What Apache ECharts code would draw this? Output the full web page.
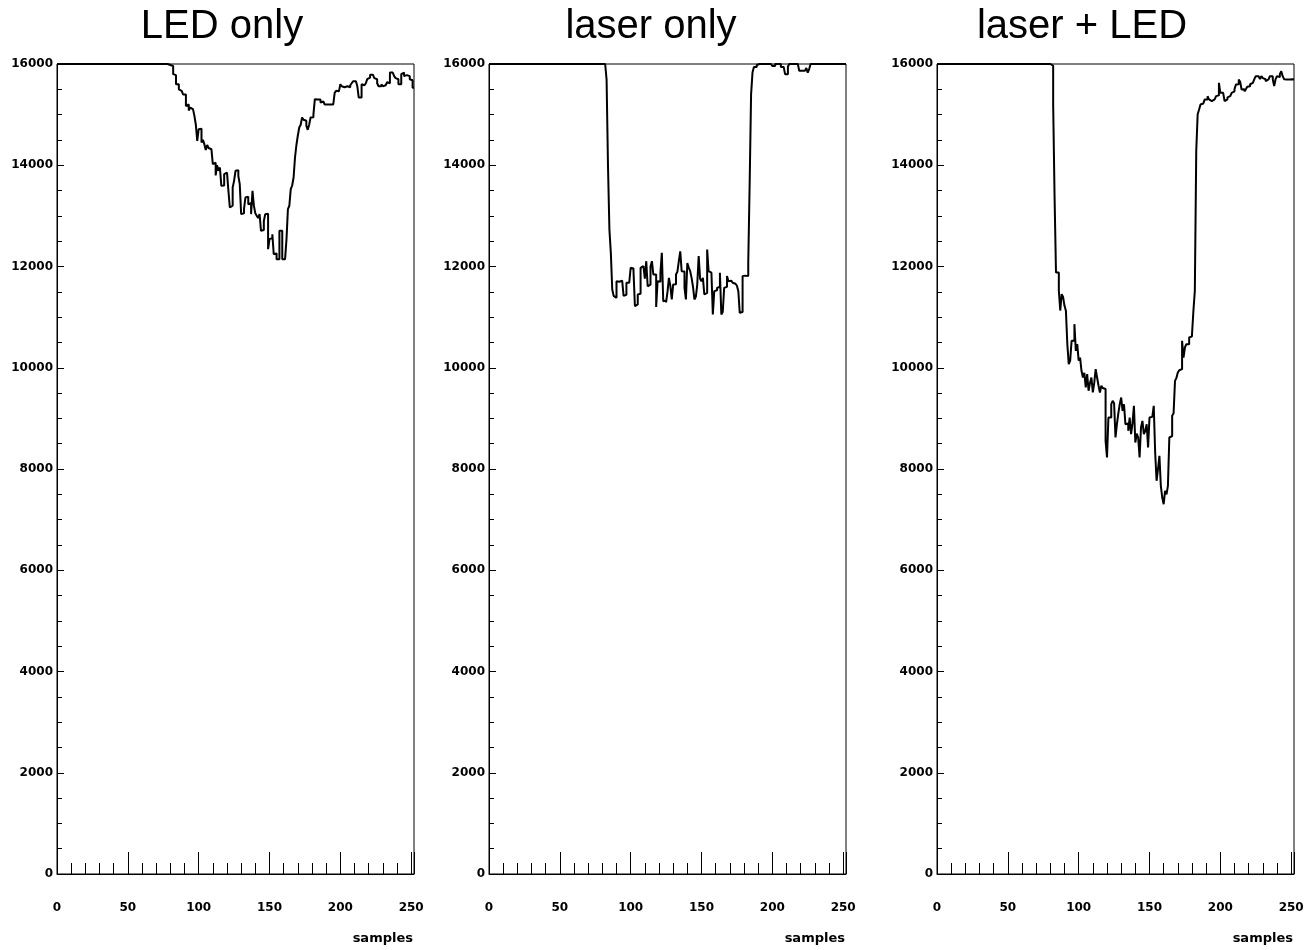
<!DOCTYPE html>
<html>
<head>
<meta charset="utf-8">
<title>LED only / laser only / laser + LED</title>
<script src="https://cdn.jsdelivr.net/npm/echarts@6.0.0/dist/echarts.min.js"></script>
<style>
  html, body { margin: 0; padding: 0; background: #fff; }
  #chart { width: 1306px; height: 950px; }
</style>
</head>
<body>
<div id="chart"></div>
<script>
// one value per sample (bin width 1)
const panelTitles = ['LED only', 'laser only', 'laser + LED'];
const xAxisName = 'samples';
const sampleCount = 252;
const xTickStep = 50;
const yTickStep = 2000;
const yMax = 16000;

const ledOnly = [
  16000, 16000, 16000, 16000, 16000, 16000, 16000, 16000, 16000, 16000,
  16000, 16000, 16000, 16000, 16000, 16000, 16000, 16000, 16000, 16000,
  16000, 16000, 16000, 16000, 16000, 16000, 16000, 16000, 16000, 16000,
  16000, 16000, 16000, 16000, 16000, 16000, 16000, 16000, 16000, 16000,
  16000, 16000, 16000, 16000, 16000, 16000, 16000, 16000, 16000, 16000,
  16000, 16000, 16000, 16000, 16000, 16000, 16000, 16000, 16000, 16000,
  16000, 16000, 16000, 16000, 16000, 16000, 16000, 16000, 16000, 16000,
  16000, 16000, 16000, 16000, 16000, 16000, 16000, 16000, 16000, 15980,
  15960, 15960, 15800, 15780, 15600, 15600, 15500, 15470, 15470, 15400,
  15400, 15170, 15200, 15080, 15140, 15108, 15100, 14976, 14800, 14480,
  14713, 14720, 14450, 14500, 14416, 14300, 14400, 14340, 14317, 14300,
  14020, 14050, 13800, 14000, 13890, 13956, 13594, 13600, 13824, 13856,
  13856, 13494, 13165, 13200, 13560, 13692, 13890, 13900, 13790, 13626,
  13034, 13050, 13132, 13363, 13380, 13231, 13250, 13034, 13494, 13198,
  13050, 13000, 12960, 13034, 12705, 12720, 12900, 13034, 13040, 12342,
  12540, 12560, 12638, 12243, 12260, 12145, 12145, 12705, 12705, 12145,
  12145, 12145, 12540, 13132, 13200, 13527, 13600, 13758, 14153, 14400,
  14588, 14746, 14800, 14943, 14900, 14880, 14780, 14700, 14800, 14943,
  14950, 15000, 15305, 15300, 15280, 15300, 15240, 15260, 15240, 15200,
  15200, 15200, 15200, 15220, 15200, 15200, 15430, 15470, 15460, 15470,
  15600, 15560, 15540, 15520, 15560, 15560, 15540, 15580, 15620, 15660,
  15660, 15640, 15560, 15337, 15337, 15600, 15580, 15600, 15620, 15700,
  15730, 15790, 15790, 15760, 15720, 15700, 15620, 15560, 15560, 15600,
  15560, 15580, 15600, 15640, 15620, 15830, 15830, 15800, 15760, 15720,
  15700, 15600, 15600, 15800, 15830, 15760, 15780, 15800, 15760, 15700,
  15680, 15530
];

const laserOnly = [
  16000, 16000, 16000, 16000, 16000, 16000, 16000, 16000, 16000, 16000,
  16000, 16000, 16000, 16000, 16000, 16000, 16000, 16000, 16000, 16000,
  16000, 16000, 16000, 16000, 16000, 16000, 16000, 16000, 16000, 16000,
  16000, 16000, 16000, 16000, 16000, 16000, 16000, 16000, 16000, 16000,
  16000, 16000, 16000, 16000, 16000, 16000, 16000, 16000, 16000, 16000,
  16000, 16000, 16000, 16000, 16000, 16000, 16000, 16000, 16000, 16000,
  16000, 16000, 16000, 16000, 16000, 16000, 16000, 16000, 16000, 16000,
  16000, 16000, 16000, 16000, 16000, 16000, 16000, 16000, 16000, 16000,
  16000, 16000, 16000, 15694, 13980, 12730, 12270, 11546, 11420, 11381,
  11710, 11700, 11710, 11720, 11690, 11420, 11440, 11680, 11680, 11650,
  11975, 11960, 11908, 11216, 11250, 11447, 11460, 11974, 12010, 12040,
  11760, 12105, 11610, 11640, 12000, 12105, 11842, 11840, 11200, 11710,
  11700, 11870, 12270, 11315, 11330, 11290, 11500, 11776, 11620, 11350,
  11644, 11650, 11842, 11900, 12105, 12300, 11908, 11900, 11579, 11350,
  12070, 11980, 11908, 11776, 11600, 11350, 11400, 11644, 12204, 11760,
  11710, 11776, 11447, 11480, 12336, 11908, 11880, 11875, 11052, 11513,
  11530, 11579, 11600, 11875, 11052, 11100, 11579, 11600, 11810, 11710,
  11720, 11700, 11680, 11660, 11644, 11620, 11513, 11085, 11100, 11810,
  11820, 11842, 11810, 12072, 13650, 15400, 15830, 15940, 15940, 15980,
  16000, 16000, 16000, 16000, 16000, 16000, 16000, 16000, 16000, 16000,
  15960, 15960, 16000, 16000, 16000, 16000, 15943, 15943, 15950, 15800,
  15800, 15950, 16000, 16000, 16000, 16000, 16000, 16000, 16000, 15865,
  15865, 15900, 15865, 15830, 15920, 15830, 15900, 16000, 16000, 16000,
  16000, 16000, 16000, 16000, 16000, 16000, 16000, 16000, 16000, 16000,
  16000, 16000, 16000, 16000, 16000, 16000, 16000, 16000, 16000, 16000,
  16000, 16000
];

const laserLed = [
  16000, 16000, 16000, 16000, 16000, 16000, 16000, 16000, 16000, 16000,
  16000, 16000, 16000, 16000, 16000, 16000, 16000, 16000, 16000, 16000,
  16000, 16000, 16000, 16000, 16000, 16000, 16000, 16000, 16000, 16000,
  16000, 16000, 16000, 16000, 16000, 16000, 16000, 16000, 16000, 16000,
  16000, 16000, 16000, 16000, 16000, 16000, 16000, 16000, 16000, 16000,
  16000, 16000, 16000, 16000, 16000, 16000, 16000, 16000, 16000, 16000,
  16000, 16000, 16000, 16000, 16000, 16000, 16000, 16000, 16000, 16000,
  16000, 16000, 16000, 16000, 16000, 16000, 16000, 16000, 16000, 16000,
  15965, 15965, 15206, 13363, 11881, 11881, 11520, 11130, 11453, 11400,
  11223, 11125, 10465, 10070, 10140, 10532, 10532, 10861, 10334, 10465,
  10140, 10200, 9940, 9807, 9900, 9610, 9873, 9545, 9700, 9807,
  9512, 9700, 9972, 9807, 9650, 9512, 9643, 9600, 9580, 8557,
  8227, 9017, 9017, 9280, 9346, 9300, 8622, 8885, 9100, 9280,
  9412, 9149, 9280, 8885, 8900, 8754, 9017, 8688, 8900, 9247,
  8524, 8700, 8622, 8227, 8820, 8951, 8688, 8750, 8885, 8425,
  9017, 9030, 9050, 9247, 8326, 7767, 8000, 8260, 7668, 7437,
  7305, 7569, 7500, 7668, 8622, 8650, 9050, 9100, 9741, 9800,
  9906, 9950, 9972, 10532, 10200, 10400, 10465, 10465, 10598, 10620,
  10663, 11125, 11520, 14285, 15009, 15100, 15200, 15220, 15200, 15300,
  15300, 15365, 15300, 15266, 15300, 15300, 15330, 15365, 15380, 15628,
  15430, 15430, 15400, 15266, 15300, 15340, 15365, 15400, 15430, 15460,
  15500, 15595, 15600, 15694, 15650, 15496, 15500, 15460, 15500, 15550,
  15560, 15600, 15628, 15600, 15700, 15760, 15760, 15740, 15700, 15760,
  15720, 15700, 15660, 15694, 15720, 15760, 15760, 15700, 15563, 15700,
  15760, 15740, 15800, 15858, 15760, 15700, 15694, 15700, 15694, 15680,
  15700, 15694
];

const panels = [ledOnly, laserOnly, laserLed];

// layout of the three frames
const gridLefts = [57, 489, 937];
const gridTop = 64;
const gridWidth = 357;
const gridHeight = 810;
const titleCenters = [222, 651, 1082];

const labelFont = {
    color: '#000',
    fontFamily: 'DejaVu Sans',
    fontWeight: 'bold',
    fontSize: 12,
    formatter: (v) => String(v)
};

// histogram: bin i covers [i, i+1], so close the last bin with one extra point
function histData(values) {
    const pts = values.map((v, i) => [i, v]);
    pts.push([values.length, values[values.length - 1]]);
    return pts;
}

const chart = echarts.init(document.getElementById('chart'));

chart.setOption({
    animation: false,
    backgroundColor: '#fff',
    grid: gridLefts.map((left) => ({
        left: left,
        top: gridTop,
        width: gridWidth,
        height: gridHeight,
        show: true,
        borderColor: '#000',
        borderWidth: 1,
        backgroundColor: 'transparent',
        containLabel: false,
        outerBoundsMode: 'none'
    })),
    xAxis: panels.map((_, i) => ({
        type: 'value',
        gridIndex: i,
        min: 0,
        max: sampleCount,
        interval: xTickStep,
        axisLine: { show: true, onZero: false, lineStyle: { color: '#000', width: 1 } },
        axisTick: { show: true, inside: true, length: 22, lineStyle: { color: '#000', width: 1 } },
        minorTick: { show: true, splitNumber: 5, length: 11, lineStyle: { color: '#000', width: 1 } },
        splitLine: { show: false },
        minorSplitLine: { show: false },
        axisLabel: Object.assign({ margin: 28, showMaxLabel: false }, labelFont)
    })),
    yAxis: panels.map((_, i) => ({
        type: 'value',
        gridIndex: i,
        min: 0,
        max: yMax,
        interval: yTickStep,
        axisLine: { show: true, onZero: false, lineStyle: { color: '#000', width: 1 } },
        axisTick: { show: true, inside: true, length: 7, lineStyle: { color: '#000', width: 1 } },
        minorTick: { show: true, splitNumber: 4, length: 5, lineStyle: { color: '#000', width: 1 } },
        splitLine: { show: false },
        minorSplitLine: { show: false },
        axisLabel: Object.assign({ margin: 4 }, labelFont)
    })),
    series: panels.map((values, i) => ({
        type: 'line',
        xAxisIndex: i,
        yAxisIndex: i,
        step: 'end',
        data: histData(values),
        symbol: 'none',
        showSymbol: false,
        clip: true,
        silent: true,
        lineStyle: { color: '#000', width: 2 }
    })),
    graphic: [
        ...panelTitles.map((t, i) => ({
            type: 'text',
            x: titleCenters[i],
            y: 27,
            style: {
                text: t,
                fill: '#000',
                font: '40px "Liberation Sans", Arial, sans-serif',
                textAlign: 'center',
                textVerticalAlign: 'middle'
            }
        })),
        ...gridLefts.map((left) => ({
            type: 'text',
            x: left + gridWidth - 1,
            y: 939,
            style: {
                text: xAxisName,
                fill: '#000',
                font: 'bold 13px "DejaVu Sans", sans-serif',
                textAlign: 'right',
                textVerticalAlign: 'middle'
            }
        }))
    ]
});
</script>
</body>
</html>
